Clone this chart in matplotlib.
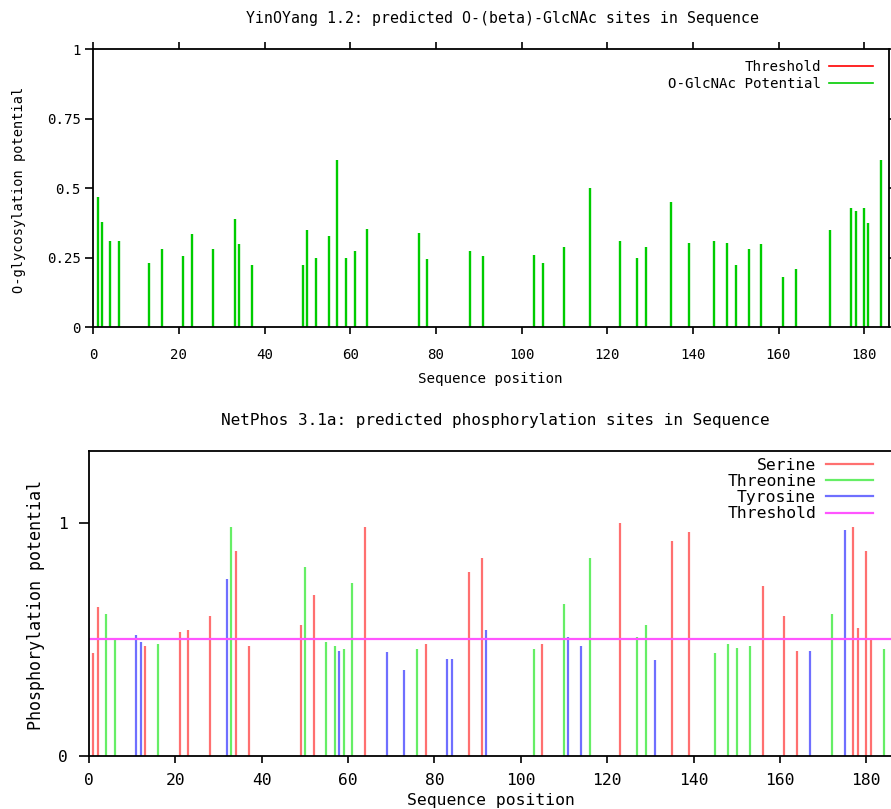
import matplotlib
matplotlib.use("Agg")
import matplotlib.pyplot as plt

# YinOYang O-GlcNAc potential
glc_pos = [1, 2, 4, 6, 13, 16, 21, 23, 28, 33, 34, 37, 49, 50, 52, 55, 57, 59, 61, 64,
           76, 78, 88, 91, 103, 105, 110, 116, 123, 127, 129, 135, 139, 145, 148, 150,
           153, 156, 161, 164, 172, 177, 178, 180, 181, 184]
glc_val = [0.47, 0.38, 0.31, 0.31, 0.23, 0.28, 0.255, 0.335, 0.28, 0.39, 0.30, 0.225,
           0.225, 0.35, 0.25, 0.33, 0.60, 0.25, 0.275, 0.355,
           0.34, 0.245, 0.275, 0.255, 0.26, 0.23, 0.29, 0.50, 0.31, 0.25, 0.29, 0.45,
           0.305, 0.31, 0.305, 0.225, 0.28, 0.30, 0.18, 0.21, 0.35, 0.43, 0.42, 0.43,
           0.375, 0.60]

# NetPhos phosphorylation potential
ser_pos = [1, 2, 13, 21, 23, 28, 34, 37, 49, 52, 64, 78, 88, 91, 105, 123, 135, 139,
           156, 161, 164, 177, 178, 180, 181]
ser_val = [0.44, 0.64, 0.47, 0.53, 0.54, 0.60, 0.88, 0.47, 0.56, 0.69, 0.98, 0.48,
           0.79, 0.85, 0.48, 1.0, 0.92, 0.96, 0.73, 0.60, 0.45, 0.98, 0.55, 0.88, 0.50]
thr_pos = [4, 6, 16, 33, 50, 55, 57, 59, 61, 76, 103, 110, 116, 127, 129, 145, 148,
           150, 153, 172, 184]
thr_val = [0.61, 0.50, 0.48, 0.98, 0.81, 0.49, 0.47, 0.46, 0.74, 0.46, 0.46, 0.65,
           0.85, 0.51, 0.56, 0.44, 0.48, 0.465, 0.47, 0.61, 0.46]
tyr_pos = [11, 12, 32, 58, 69, 73, 83, 84, 92, 111, 114, 131, 167, 175]
tyr_val = [0.52, 0.49, 0.76, 0.45, 0.445, 0.37, 0.415, 0.415, 0.54, 0.51, 0.47, 0.41,
           0.45, 0.97]
threshold = 0.5

W, H = 891, 809
mono = "DejaVu Sans Mono"


def fx(px):
    return px / W


def fy(py):
    return 1 - py / H


fig = plt.figure(figsize=(W / 100, H / 100), dpi=100)

# ---- top panel ----
ax1 = fig.add_axes([fx(93.3), fy(327.3), fx(889.3 - 93.3), (327.3 - 49.3) / H])
ax1.vlines(glc_pos, 0, glc_val, colors="#00cc00", lw=1.7)
ax1.plot([], [], color="#ff0000", lw=1.2, label="Threshold")
ax1.plot([], [], color="#00cc00", lw=1.2, label="O-GlcNAc Potential")
ax1.set_xlim(0, 185.86)
ax1.set_ylim(0, 1)
ax1.set_xticks(range(0, 181, 20))
ax1.set_yticks([0, 0.25, 0.5, 0.75, 1])
ax1.set_yticklabels(["0", "0.25", "0.5", "0.75", "1"])
ax1.tick_params(axis="x", direction="out", top=True, length=5, width=1.2,
                pad=10, labelsize=10.2)
ax1.tick_params(axis="y", direction="out", right=True, length=6, width=1.2,
                pad=3, labelsize=10.2)
for lab in ax1.get_xticklabels() + ax1.get_yticklabels():
    lab.set_family(mono)
for sp in ax1.spines.values():
    sp.set_linewidth(1.3)
ax1.legend(loc="upper right", frameon=False, markerfirst=False,
           prop={"family": mono, "size": 10.2}, handlelength=3.1,
           labelspacing=0.25, borderaxespad=0.0, handletextpad=0.6,
           bbox_to_anchor=((879 - 93.3) / (889.3 - 93.3), (327.3 - 54) / 278))

fig.text(fx(503), fy(18), "YinOYang 1.2: predicted O-(beta)-GlcNAc sites in Sequence",
         ha="center", va="center", family=mono, fontsize=10.7)
fig.text(fx(490), fy(379), "Sequence position", ha="center", va="center",
         family=mono, fontsize=10.2)
fig.text(fx(19), fy(190), "O-glycosylation potential", ha="center", va="center",
         rotation=90, family=mono, fontsize=9.8)

# ---- bottom panel ----
ax2 = fig.add_axes([fx(89), fy(756), fx(891 - 89), (756 - 451) / H])
ax2.vlines(ser_pos, 0, ser_val, colors="#ff7070", lw=1.6)
ax2.vlines(thr_pos, 0, thr_val, colors="#66ee66", lw=1.6)
ax2.vlines(tyr_pos, 0, tyr_val, colors="#6f6fff", lw=1.6)
ax2.axhline(threshold, color="#ff55ff", lw=1.6)
ax2.plot([], [], color="#ff7070", lw=1.6, label="Serine")
ax2.plot([], [], color="#66ee66", lw=1.6, label="Threonine")
ax2.plot([], [], color="#6f6fff", lw=1.6, label="Tyrosine")
ax2.plot([], [], color="#ff55ff", lw=1.6, label="Threshold")
ax2.set_xlim(0, (891 - 89) / 4.318)
ax2.set_ylim(0, (756 - 451) / 233.3)
ax2.set_xticks(range(0, 181, 20))
ax2.set_yticks([0, 1])
ax2.tick_params(axis="x", direction="out", length=5, width=1.2, pad=7,
                labelsize=11.8)
ax2.tick_params(axis="y", direction="out", length=7, width=1.2, pad=8,
                labelsize=11.8)
for lab in ax2.get_xticklabels() + ax2.get_yticklabels():
    lab.set_family(mono)
ax2.spines["right"].set_visible(False)
for sp in ax2.spines.values():
    sp.set_linewidth(1.3)
ax2.legend(loc="upper right", frameon=False, markerfirst=False,
           prop={"family": mono, "size": 11.8}, handlelength=2.9,
           labelspacing=0.08, borderaxespad=0.0, handletextpad=0.6,
           bbox_to_anchor=((880 - 89) / (891 - 89), (756 - 451) / 305))

fig.text(fx(495), fy(421), "NetPhos 3.1a: predicted phosphorylation sites in Sequence",
         ha="center", va="center", family=mono, fontsize=11.5)
fig.text(fx(491), fy(801), "Sequence position", ha="center", va="center",
         family=mono, fontsize=11.8)
fig.text(fx(36), fy(605), "Phosphorylation potential", ha="center", va="center",
         rotation=90, family=mono, fontsize=12)

fig.savefig("out.png", dpi=100)
